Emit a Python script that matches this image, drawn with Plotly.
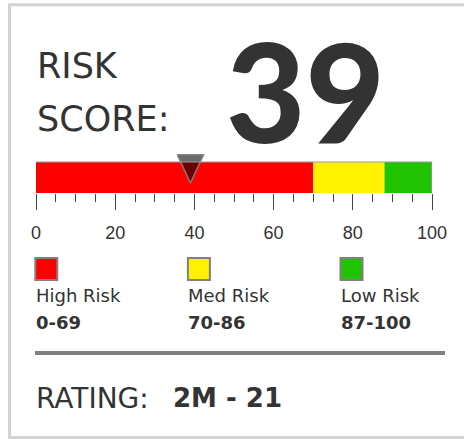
import plotly.graph_objects as go

# ---------------- data ----------------
SCORE = 39
RATING = "2M - 21"
SEG_NAMES = ["High Risk", "Med Risk", "Low Risk"]
SEG_RANGES = ["0-69", "70-86", "87-100"]
SEG_START = [0, 70, 88]
SEG_WIDTH = [70, 18, 12]
SEG_COLORS = ["#ff0000", "#fff100", "#21c300"]
AXIS_MIN, AXIS_MAX = 0, 100
MAJOR_TICKS = [0, 20, 40, 60, 80, 100]

W, H = 464, 439
def px(x):
    return x / W
def py(y):
    return 1 - y / H

TXT = "#333333"
fig = go.Figure()

# gauge bar segments
for s, w, c, n in zip(SEG_START, SEG_WIDTH, SEG_COLORS, SEG_NAMES):
    fig.add_trace(go.Bar(
        x=[w], base=[s], y=[0], orientation="h", width=1,
        marker=dict(color=c, line=dict(width=0)),
        name=n, showlegend=False, hoverinfo="skip",
        xaxis="x", yaxis="y",
    ))

# pointer triangle (built from SCORE)
half_w = 3.3
y_top, y_tip = 0.73, -0.18
fig.add_trace(go.Scatter(
    x=[SCORE - half_w, SCORE + half_w, SCORE, SCORE - half_w],
    y=[y_top, y_top, y_tip, y_top],
    mode="lines", fill="toself",
    fillcolor="rgba(0,0,0,0.58)",
    line=dict(color="rgba(125,125,125,0.95)", width=1.5),
    showlegend=False, hoverinfo="skip", xaxis="x", yaxis="y",
))

# legend swatches
fig.add_trace(go.Scatter(
    x=[0, 1, 2], y=[0, 0, 0], mode="markers",
    marker=dict(symbol="square", size=22, color=SEG_COLORS,
                line=dict(color="#808080", width=2)),
    cliponaxis=False, showlegend=False, hoverinfo="skip",
    xaxis="x3", yaxis="y3",
))

bar_bottom, bar_h = 193, 31
fig.update_layout(
    width=W, height=H,
    margin=dict(l=0, r=0, t=0, b=0),
    paper_bgcolor="white", plot_bgcolor="rgba(0,0,0,0)",
    barmode="overlay",
    xaxis=dict(
        domain=[px(36), px(432)], range=[AXIS_MIN, AXIS_MAX],
        tickvals=MAJOR_TICKS, ticks="outside", ticklen=16, tickwidth=1,
        tickcolor="#444", showgrid=False, zeroline=False, showline=False,
        tickfont=dict(family="Liberation Sans, Arial", size=18, color=TXT),
        ticklabelstandoff=7,
        minor=dict(dtick=5, ticks="outside", ticklen=8, tickwidth=1,
                   tickcolor="#444", showgrid=False),
        anchor="y", fixedrange=True, automargin=False,
    ),
    yaxis=dict(
        domain=[py(bar_bottom), py(bar_bottom - 1.5 * bar_h)],
        range=[-0.5, 1.0], visible=False, fixedrange=True,
    ),
    xaxis3=dict(domain=[px(46.3), px(351.5)], range=[0, 2], visible=False,
                anchor="y3", fixedrange=True),
    yaxis3=dict(domain=[py(279), py(259)], range=[-1, 1], visible=False,
                anchor="x3", fixedrange=True),
)

frame_path = "M %.4f,%.4f L %.4f,%.4f L %.4f,%.4f L %.4f,%.4f" % (
    1.0, py(4.8), px(9.5), py(4.8), px(9.5), py(437.6), 1.0, py(437.6))
shapes = [
    dict(type="path", xref="paper", yref="paper", path=frame_path,
         line=dict(color="#d3d3d3", width=3)),
    dict(type="line", xref="x", yref="y", x0=AXIS_MIN, x1=AXIS_MAX, y0=0.5, y1=0.5,
         line=dict(color="#9a9a9a", width=1)),
    dict(type="line", xref="x", yref="y", x0=AXIS_MAX, x1=AXIS_MAX, y0=-0.5, y1=0.5,
         line=dict(color="#9a9a9a", width=1.5)),
    dict(type="line", xref="paper", yref="paper", x0=px(35), x1=px(445),
         y0=py(353), y1=py(353), line=dict(color="#808080", width=4)),
]
fig.update_layout(shapes=shapes)

ann = []
ann.append(dict(text="RISK", x=px(35), y=py(66), xref="paper", yref="paper",
                xanchor="left", yanchor="middle", showarrow=False,
                font=dict(family="DejaVu Sans", size=35, color=TXT)))
ann.append(dict(text="SCORE:", x=px(35), y=py(119), xref="paper", yref="paper",
                xanchor="left", yanchor="middle", showarrow=False,
                font=dict(family="DejaVu Sans", size=35, color=TXT)))
ann.append(dict(text=str(SCORE), x=px(305.5), y=py(90), xref="paper", yref="paper",
                xanchor="center", yanchor="middle", showarrow=False,
                font=dict(family="Lato", size=137, color=TXT, weight=900)))
for i, (n, r) in enumerate(zip(SEG_NAMES, SEG_RANGES)):
    ann.append(dict(text=n, x=i, xref="x3", y=py(295), yref="paper",
                    xanchor="left", yanchor="middle", xshift=-12.5, showarrow=False,
                    font=dict(family="DejaVu Sans", size=18, color=TXT)))
    ann.append(dict(text="<b>%s</b>" % r, x=i, xref="x3", y=py(322), yref="paper",
                    xanchor="left", yanchor="middle", xshift=-12.5, showarrow=False,
                    font=dict(family="DejaVu Sans", size=18, color=TXT)))
ann.append(dict(text="RATING:", x=px(34), y=py(398), xref="paper", yref="paper",
                xanchor="left", yanchor="middle", showarrow=False,
                font=dict(family="DejaVu Sans", size=28, color=TXT)))
ann.append(dict(text="<b>%s</b>" % RATING, x=px(171), y=py(398), xref="paper", yref="paper",
                xanchor="left", yanchor="middle", showarrow=False,
                font=dict(family="DejaVu Sans", size=26, color=TXT)))
fig.update_layout(annotations=ann)

fig.write_html(
    "out.html",
    config={"responsive": False, "displayModeBar": False},
    post_script="document.body.style.margin='0';document.body.style.overflow='hidden';",
)
